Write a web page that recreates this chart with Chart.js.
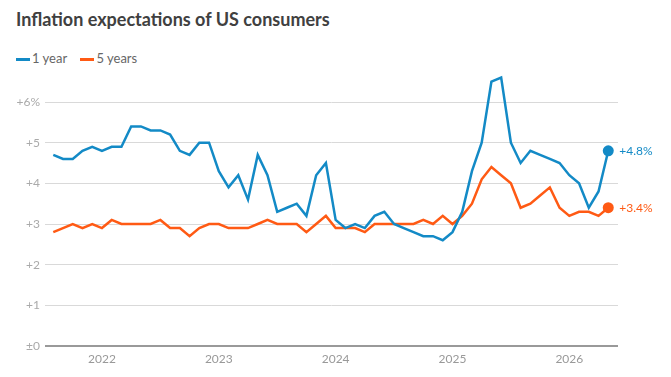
<!DOCTYPE html>
<html>
<head>
<meta charset="utf-8">
<script src="https://cdn.jsdelivr.net/npm/chart.js@4"></script>
<style>
  html, body { margin: 0; padding: 0; background: #fff; }
  #wrap { position: relative; width: 671px; height: 377px; overflow: hidden; }
  #title { position: absolute; left: 16px; top: 8px; font: bold 18px Lato, sans-serif; color: #404040; white-space: nowrap; }
  #legend { position: absolute; left: 16px; top: 50px; font: 13px Lato, sans-serif; color: #666; white-space: nowrap; }
  #legend span.sw { display: inline-block; width: 14px; height: 3px; vertical-align: middle; margin-right: 2px; }
  #legend span.item { margin-right: 10px; }
  canvas { position: absolute; left: 0; top: 0; }
</style>
</head>
<body>
<div id="wrap">
  <div id="title">Inflation expectations of US consumers</div>
  <div id="legend">
    <span class="item"><span class="sw" style="background:#138ac6"></span>1 year</span>
    <span class="item"><span class="sw" style="background:#ff5a14"></span>5 years</span>
  </div>
  <canvas id="lineChart" width="671" height="377"></canvas>
</div>
<script>
// Months (Jul 2021 .. Apr 2026)
const months = [
    '2021-07','2021-08','2021-09','2021-10','2021-11','2021-12',
    '2022-01','2022-02','2022-03','2022-04','2022-05','2022-06','2022-07','2022-08','2022-09','2022-10','2022-11','2022-12',
    '2023-01','2023-02','2023-03','2023-04','2023-05','2023-06','2023-07','2023-08','2023-09','2023-10','2023-11','2023-12',
    '2024-01','2024-02','2024-03','2024-04','2024-05','2024-06','2024-07','2024-08','2024-09','2024-10','2024-11','2024-12',
    '2025-01','2025-02','2025-03','2025-04','2025-05','2025-06','2025-07','2025-08','2025-09','2025-10','2025-11','2025-12',
    '2026-01','2026-02','2026-03','2026-04'
];

const oneYear = [
    4.7, 4.6, 4.6, 4.8, 4.9, 4.8,
    4.9, 4.9, 5.4, 5.4, 5.3, 5.3, 5.2, 4.8, 4.7, 5.0, 5.0, 4.3,
    3.9, 4.2, 3.6, 4.7, 4.2, 3.3, 3.4, 3.5, 3.2, 4.2, 4.5, 3.1,
    2.9, 3.0, 2.9, 3.2, 3.3, 3.0, 2.9, 2.8, 2.7, 2.7, 2.6, 2.8,
    3.3, 4.3, 5.0, 6.5, 6.6, 5.0, 4.5, 4.8, 4.7, 4.6, 4.5, 4.2,
    4.0, 3.4, 3.8, 4.8
];

const fiveYears = [
    2.8, 2.9, 3.0, 2.9, 3.0, 2.9,
    3.1, 3.0, 3.0, 3.0, 3.0, 3.1, 2.9, 2.9, 2.7, 2.9, 3.0, 3.0,
    2.9, 2.9, 2.9, 3.0, 3.1, 3.0, 3.0, 3.0, 2.8, 3.0, 3.2, 2.9,
    2.9, 2.9, 2.8, 3.0, 3.0, 3.0, 3.0, 3.0, 3.1, 3.0, 3.2, 3.0,
    3.2, 3.5, 4.1, 4.4, 4.2, 4.0, 3.4, 3.5, 3.7, 3.9, 3.4, 3.2,
    3.3, 3.3, 3.2, 3.4
];

const yearLabels = ['2022', '2023', '2024', '2025', '2026'];
const yTicks = [0, 1, 2, 3, 4, 5, 6];

const blue = '#138ac6';
const orange = '#ff5a14';

// year tick sits just before January
const yearTickPos = yearLabels.map(y => months.indexOf(y + '-01') - 1);
const last = months.length - 1;

const toPoints = arr => arr.map((v, i) => ({ x: i, y: v }));

const endLabels = {
    id: 'endLabels',
    afterDatasetsDraw(chart) {
        const ctx = chart.ctx;
        ctx.save();
        ctx.font = '12px Lato, sans-serif';
        ctx.textBaseline = 'middle';
        ctx.textAlign = 'left';
        chart.data.datasets.forEach((ds, i) => {
            const pt = chart.getDatasetMeta(i).data[last];
            ctx.fillStyle = ds.borderColor;
            ctx.fillText('+' + ds.data[last].y.toFixed(1) + '%', pt.x + 11, pt.y);
        });
        ctx.restore();
    }
};

new Chart(document.getElementById('lineChart').getContext('2d'), {
    type: 'line',
    data: {
        datasets: [
            {
                label: '1 year',
                data: toPoints(oneYear),
                borderColor: blue,
                backgroundColor: blue,
                borderWidth: 2.5,
                tension: 0,
                pointRadius: ctx => ctx.dataIndex === last ? 5.5 : 0,
                pointBorderWidth: 0,
                clip: false
            },
            {
                label: '5 years',
                data: toPoints(fiveYears),
                borderColor: orange,
                backgroundColor: orange,
                borderWidth: 2.5,
                tension: 0,
                pointRadius: ctx => ctx.dataIndex === last ? 5.5 : 0,
                pointBorderWidth: 0,
                clip: false
            }
        ]
    },
    options: {
        responsive: false,
        animation: false,
        layout: { padding: { left: 0, right: 53, top: 102, bottom: 0 } },
        plugins: {
            legend: { display: false },
            tooltip: { enabled: false }
        },
        scales: {
            x: {
                type: 'linear',
                min: -0.85,
                max: 58,
                afterFit: s => { s.height = 31; },
                afterBuildTicks: s => { s.ticks = yearTickPos.map(v => ({ value: v })); },
                grid: { display: false, drawTicks: false },
                border: { display: false },
                ticks: {
                    padding: 6,
                    color: '#999',
                    font: { family: 'Lato', size: 12 },
                    maxRotation: 0,
                    autoSkip: false,
                    callback: v => yearLabels[yearTickPos.indexOf(v)]
                }
            },
            y: {
                min: 0,
                max: 6,
                afterFit: s => { s.width = 45; },
                afterBuildTicks: s => { s.ticks = yTicks.map(v => ({ value: v })); },
                grid: {
                    drawTicks: false,
                    color: c => c.tick.value === 0 ? '#999' : '#d9d9d9',
                    lineWidth: c => c.tick.value === 0 ? 2 : 1
                },
                border: { display: false },
                ticks: {
                    padding: 5,
                    color: '#aaa',
                    font: { family: 'Lato', size: 12 },
                    callback: v => v === 0 ? '±0' : (v === 6 ? '+6%' : '+' + v)
                }
            }
        }
    },
    plugins: [endLabels]
});
</script>
</body>
</html>
